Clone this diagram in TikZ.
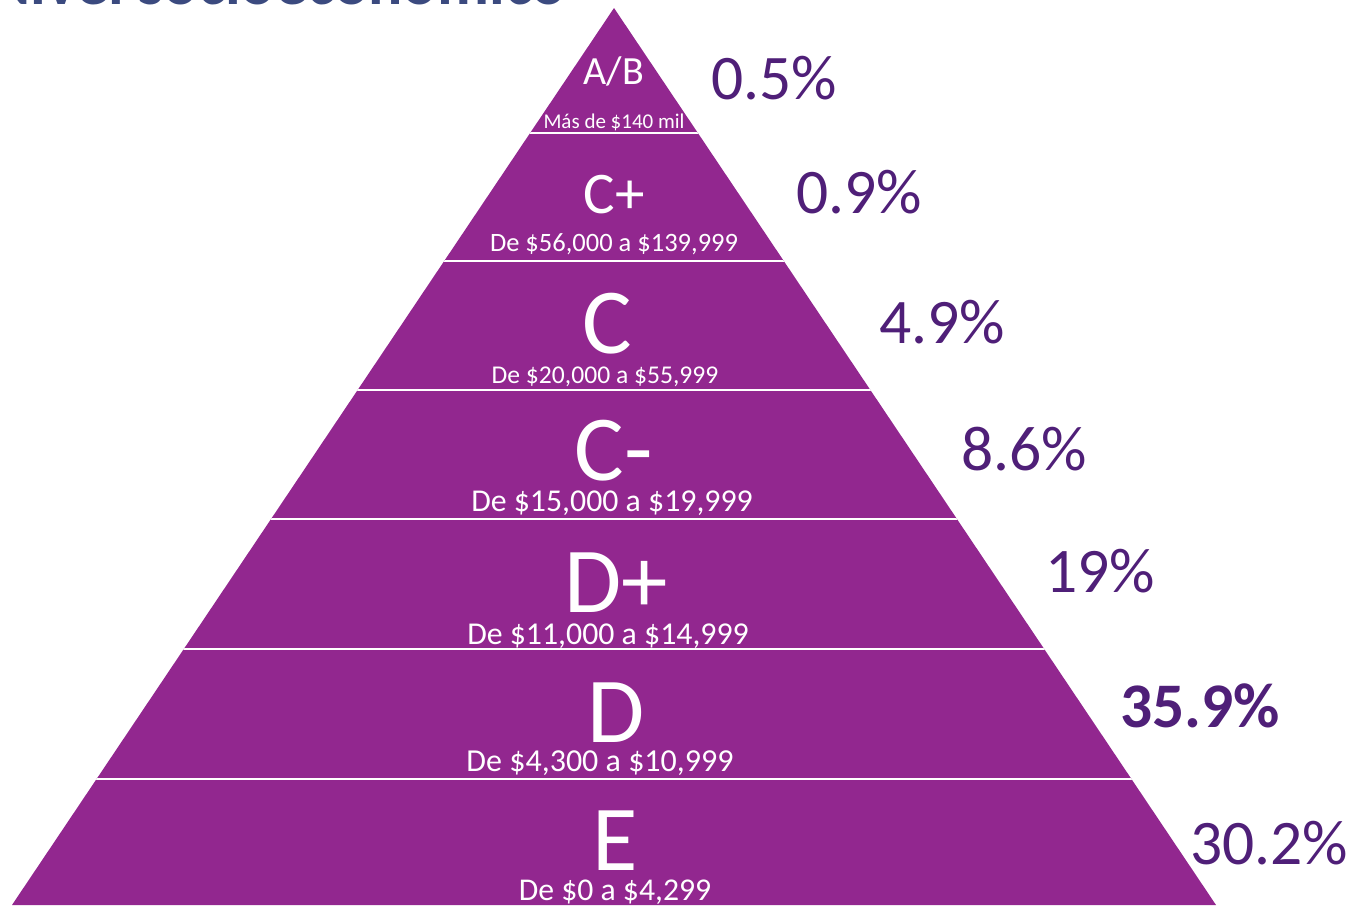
\documentclass[tikz,border=0pt]{standalone}
\usepackage{fontspec}
\setmainfont{Carlito}
\definecolor{pyr}{HTML}{92278F}
\definecolor{pct}{HTML}{4F1F78}
\definecolor{ttl}{HTML}{3B4A7F}
\begin{document}
\begin{tikzpicture}[x=1pt,y=-1pt,
  lbl/.style={anchor=base,inner sep=0pt,text=white},
  pctlbl/.style={anchor=base west,inner sep=0pt,text=pct,font=\fontsize{63.5}{63.5}\selectfont},
  sep/.style={draw=white,line width=2.5pt}]
\useasboundingbox (0,0) rectangle (1352,905);
\node[anchor=base east,inner sep=0pt,text=ttl,font=\fontsize{64}{64}\selectfont\bfseries] (title) at (566,4) {Nivel socioeconómico};
% pyramid
\coordinate (apex) at (614,8);
\coordinate (bl) at (12,905);
\coordinate (br) at (1216,905);
\fill[pyr] (apex) -- (br) -- (bl) -- cycle;
\begin{scope}
  \clip (apex) -- (br) -- (bl) -- cycle;
  \foreach \yy in {133,261,390,519,649,779}{
    \draw[sep] (0,\yy) -- (1352,\yy);
  }
\end{scope}
% labels
\node[lbl,font=\fontsize{40}{40}\selectfont] (ab) at (614,84) {A/B};
\node[lbl,font=\fontsize{21}{21}\selectfont] (abs) at (614,128) {Más de \$140 mil};
\node[lbl,font=\fontsize{59}{59}\selectfont] (cp) at (614,213) {C+};
\node[lbl,font=\fontsize{26.5}{26.5}\selectfont] (cps) at (614,251) {De \$56,000 a \$139,999};
\node[lbl,font=\fontsize{93}{93}\selectfont] (c) at (607,353) {C};
\node[lbl,font=\fontsize{25.6}{25.6}\selectfont] (cs) at (605,383) {De \$20,000 a \$55,999};
\node[lbl,font=\fontsize{93}{93}\selectfont] (cm) at (614,480) {C-};
\node[lbl,font=\fontsize{31.8}{31.8}\selectfont] (cms) at (612,511) {De \$15,000 a \$19,999};
\node[lbl,font=\fontsize{93}{93}\selectfont] (dp) at (616,612) {D+};
\node[lbl,font=\fontsize{31.8}{31.8}\selectfont] (dps) at (608,644) {De \$11,000 a \$14,999};
\node[lbl,font=\fontsize{93}{93}\selectfont] (d) at (616,742) {D};
\node[lbl,font=\fontsize{32}{32}\selectfont] (ds) at (600,771) {De \$4,300 a \$10,999};
\node[lbl,font=\fontsize{93}{93}\selectfont] (e) at (615,870) {E};
\node[lbl,font=\fontsize{31.7}{31.7}\selectfont] (es) at (615,900) {De \$0 a \$4,299};
% percentages
\node[pctlbl] (p1) at (711,99) {0.5\%};
\node[pctlbl] (p2) at (796,213) {0.9\%};
\node[pctlbl] (p3) at (879,343) {4.9\%};
\node[pctlbl] (p4) at (961,470) {8.6\%};
\node[pctlbl] (p5) at (1045,592) {19\%};
\node[pctlbl,font=\fontsize{63.5}{63.5}\selectfont\bfseries] (p6) at (1120,727) {35.9\%};
\node[pctlbl] (p7) at (1190,864) {30.2\%};
\end{tikzpicture}
\end{document}
